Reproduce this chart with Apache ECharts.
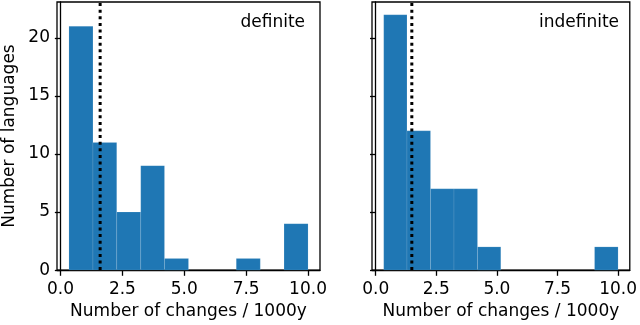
<!DOCTYPE html>
<html><head><meta charset="utf-8">
<script src="https://cdn.jsdelivr.net/npm/echarts@6/dist/echarts.min.js"></script>
<style>html,body{margin:0;padding:0;background:#fff}#c{width:640px;height:325px}</style>
</head><body><div id="c"></div>
<script>
const panelLabels = ['definite', 'indefinite'];
const definiteEdges = [0.34, 1.31, 2.27, 3.24, 4.20, 5.17, 6.14, 7.10, 8.07, 9.03, 10.00];
const definiteCounts = [21, 11, 5, 9, 1, 0, 0, 1, 0, 4];
const indefiniteEdges = [0.33, 1.29, 2.26, 3.23, 4.20, 5.16, 6.13, 7.10, 8.07, 9.03, 10.00];
const indefiniteCounts = [22, 12, 7, 7, 2, 0, 0, 0, 0, 2];
const medians = [1.60, 1.49];
const xTicks = [0, 2.5, 5, 7.5, 10];
const yTicks = [0, 5, 10, 15, 20];
const yMax = 23.1;
const xName = 'Number of changes / 1000y';
const yName = 'Number of languages';

const FONT = 'DejaVu Sans';
const FS = 17;
const BLUE = '#1f77b4';

function bins(edges, counts) {
  return counts.map((c, i) => [edges[i], edges[i + 1], c]);
}
const panels = [
  { edges: definiteEdges, counts: definiteCounts },
  { edges: indefiniteEdges, counts: indefiniteCounts }
];
const gridPos = [
  { left: 57, top: 2, width: 263, height: 270 },
  { left: 372, top: 2, width: 262, height: 270 }
];

const grids = [], xAxes = [], yAxes = [], series = [], graphics = [];
panels.forEach((p, k) => {
  const lo = p.edges[0], hi = p.edges[p.edges.length - 1];
  const pad = (hi - lo) * 0.05;
  grids.push(Object.assign({ show: true, borderColor: '#000', borderWidth: 1.3, backgroundColor: 'transparent' }, gridPos[k]));
  xAxes.push({
    type: 'value', gridIndex: k, min: lo - pad, max: hi + pad,
    name: xName, nameLocation: 'middle', nameGap: 32,
    nameTextStyle: { fontFamily: FONT, fontSize: FS, color: '#000' },
    axisLine: { show: true, onZero: false, lineStyle: { color: '#000', width: 1.3 } },
    axisTick: { show: true, inside: false, length: 5.7, customValues: xTicks, lineStyle: { color: '#000', width: 1.3 } },
    axisLabel: { show: true, customValues: xTicks, formatter: v => Number(v).toFixed(1), fontFamily: FONT, fontSize: FS, color: '#000', margin: 11 },
    splitLine: { show: false }
  });
  yAxes.push({
    type: 'value', gridIndex: k, min: 0, max: yMax,
    name: k === 0 ? yName : '', nameLocation: 'middle', nameGap: 39,
    nameTextStyle: { fontFamily: FONT, fontSize: FS, color: '#000' },
    axisLine: { show: true, lineStyle: { color: '#000', width: 1.3 } },
    axisTick: { show: true, inside: false, length: 5.7, customValues: yTicks, lineStyle: { color: '#000', width: 1.3 } },
    axisLabel: { show: k === 0, customValues: yTicks, fontFamily: FONT, fontSize: FS, color: '#000', margin: 7 },
    splitLine: { show: false }
  });
  series.push({
    type: 'custom', xAxisIndex: k, yAxisIndex: k,
    data: bins(p.edges, p.counts),
    renderItem: function (params, api) {
      const x0 = api.value(0), x1 = api.value(1), c = api.value(2);
      if (!c) return null;
      const a = api.coord([x0, c]);
      const b = api.coord([x1, 0]);
      return {
        type: 'rect',
        shape: { x: a[0], y: a[1], width: b[0] - a[0], height: b[1] - a[1] },
        style: { fill: BLUE, stroke: 'rgba(255,255,255,0.18)', lineWidth: 0.6 }
      };
    },
    z: 2, silent: true
  });
  series.push({
    type: 'line', xAxisIndex: k, yAxisIndex: k,
    data: [[medians[k], 0], [medians[k], yMax]],
    symbol: 'none', silent: true, z: 5,
    lineStyle: { color: '#000', width: 3, type: [3, 3.6] }
  });
  graphics.push({
    type: 'text', right: 640 - (gridPos[k].left + gridPos[k].width - 15), top: 14,
    style: { text: panelLabels[k], fontFamily: FONT, fontSize: FS, fill: '#000' }
  });
});

const chart = echarts.init(document.getElementById('c'), null, { renderer: 'canvas' });
chart.setOption({
  animation: false,
  backgroundColor: '#fff',
  grid: grids, xAxis: xAxes, yAxis: yAxes, series: series, graphic: graphics
});
</script></body></html>
